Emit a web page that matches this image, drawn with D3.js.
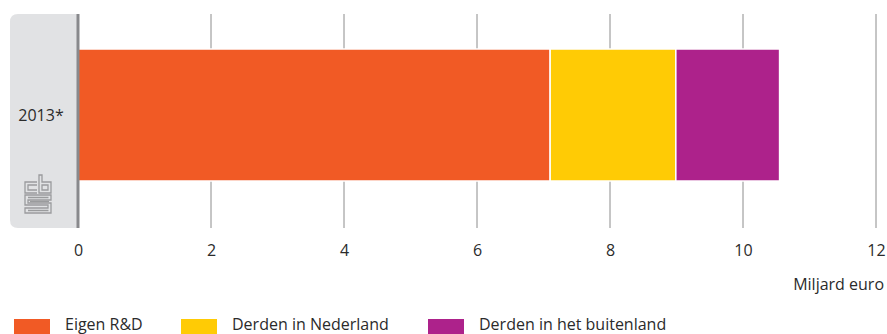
<!DOCTYPE html>
<html>
<head>
<meta charset="utf-8">
<script src="https://cdn.jsdelivr.net/npm/d3@7"></script>
<style>
  html, body { margin: 0; padding: 0; background: #fff; }
  svg { display: block; }
  text { font-family: "Open Sans", "Noto Sans", sans-serif; fill: #2b2b2b; }
</style>
</head>
<body>
<script>
const categories = ["2013*"];
const seriesNames = ["Eigen R&D", "Derden in Nederland", "Derden in het buitenland"];
const eigenRD = [7.1];
const derdenNL = [1.89];
const derdenBuitenland = [1.56];
const tickValues = [0, 2, 4, 6, 8, 10, 12];
const axisTitle = "Miljard euro";
const colors = ["#f15a25", "#ffcb05", "#ad228b"];

const W = 887, H = 334;
const FS = 16;
const svg = d3.select("body").append("svg").attr("width", W).attr("height", H);

const x = d3.scaleLinear().domain([0, 12]).range([78, 876]);
const y = d3.scaleBand().domain(categories).range([49, 181]).padding(0);

// left grey panel
const px0 = 10, px1 = 78, py0 = 14, py1 = 228, r = 8;
svg.append("path")
  .attr("d", `M${px1},${py0} L${px0 + r},${py0} Q${px0},${py0} ${px0},${py0 + r} L${px0},${py1 - r} Q${px0},${py1} ${px0 + r},${py1} L${px1},${py1} Z`)
  .attr("fill", "#e1e2e4");

// gridlines
svg.append("g").selectAll("line").data(tickValues.filter(d => d > 0)).join("line")
  .attr("x1", d => x(d)).attr("x2", d => x(d))
  .attr("y1", 14).attr("y2", 228)
  .attr("stroke", "#8c8c8c").attr("stroke-width", 1);

// stacked bars
const rows = categories.map((c, i) => ({cat: c, v0: eigenRD[i], v1: derdenNL[i], v2: derdenBuitenland[i]}));
const stack = d3.stack().keys(["v0", "v1", "v2"])(rows);
svg.append("g").selectAll("g").data(stack).join("g")
  .attr("fill", (d, i) => colors[i])
  .selectAll("rect").data(d => d).join("rect")
  .attr("x", d => x(d[0]))
  .attr("width", d => x(d[1]) - x(d[0]))
  .attr("y", d => y(d.data.cat))
  .attr("height", y.bandwidth())
  .attr("stroke", "#fff").attr("stroke-width", 1.5);

// zero axis line
svg.append("line")
  .attr("x1", x(0)).attr("x2", x(0)).attr("y1", 14).attr("y2", 228)
  .attr("stroke", "#88898c").attr("stroke-width", 3);

// category labels
svg.append("g").selectAll("text").data(categories).join("text")
  .attr("x", 41).attr("y", d => y(d) + y.bandwidth() / 2 + 6)
  .attr("text-anchor", "middle").attr("font-size", FS)
  .text(d => d);

// x axis tick labels
const axis = d3.axisBottom(x).tickValues(tickValues).tickSize(0).tickPadding(0).tickFormat(d3.format("d"));
const ag = svg.append("g").attr("transform", "translate(0,245)").call(axis);
ag.select(".domain").remove();
ag.selectAll("text").attr("font-size", FS).attr("fill", "#2b2b2b")
  .style("font-family", '"Open Sans", "Noto Sans", sans-serif');

svg.append("text").attr("x", 884).attr("y", 290).attr("text-anchor", "end")
  .attr("font-size", FS).text(axisTitle);

// legend
const legendX = [14, 181, 428];
const lg = svg.append("g").selectAll("g").data(seriesNames).join("g")
  .attr("transform", (d, i) => `translate(${legendX[i]},319)`);
lg.append("rect").attr("width", 36).attr("height", 15).attr("fill", (d, i) => colors[i]);
lg.append("text").attr("x", 51).attr("y", 11).attr("font-size", FS).text(d => d);

// CBS logo (approximation)
const logo = svg.append("g").attr("fill", "none").attr("stroke", "#9a9b9d").attr("stroke-width", 1.3);
logo.append("path").attr("d", "M37,182 H25 V193 H37 M37,185 H28 V190 H37");
logo.append("path").attr("d", "M39,175 V193 H51 V182 H42 V175 Z M42,185 H48 V190 H42 Z");
logo.append("path").attr("d", "M51,195 H25 V205 H48 V208 H25 V213 H51 V203 H28 V200 H51 Z");
logo.append("path").attr("d", "M28,197.5 H48.5 M28,210.5 H48.5 M30,201.5 H49");
</script>
</body>
</html>
